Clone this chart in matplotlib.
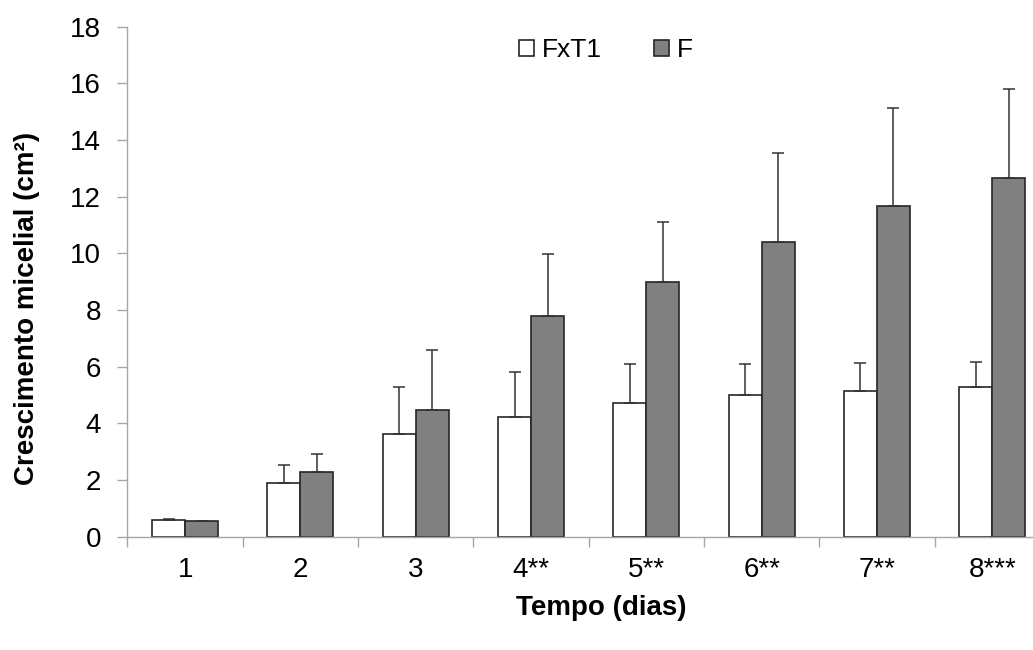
import numpy as np
import matplotlib
matplotlib.use("Agg")
import matplotlib.pyplot as plt
from matplotlib.patches import Patch

# ---------------------------------------------------------------------------
# Data
# ---------------------------------------------------------------------------
days = ["1", "2", "3", "4**", "5**", "6**", "7**", "8***"]

fxt1_mean = [0.57, 1.89, 3.63, 4.22, 4.72, 4.99, 5.12, 5.28]
fxt1_err = [0.04, 0.63, 1.64, 1.59, 1.36, 1.09, 1.00, 0.89]

f_mean = [0.53, 2.27, 4.45, 7.79, 8.98, 10.40, 11.67, 12.67]
f_err = [0.03, 0.63, 2.13, 2.19, 2.13, 3.13, 3.45, 3.13]

series_names = ["FxT1", "F"]

# ---------------------------------------------------------------------------
# Figure
# ---------------------------------------------------------------------------
plt.rcParams["font.family"] = ["Liberation Sans", "DejaVu Sans"]

fig = plt.figure(figsize=(10.33, 6.5), dpi=100)
# axes runs slightly past the right edge, as in the (cropped) original
ax = fig.add_axes([0.1234, 0.1746, 0.893, 0.7846])

x = np.arange(len(days))
w = 0.286
edge = "#262626"
axis_col = "#a6a6a6"
err_style = dict(ecolor="#333333", elinewidth=1.1, capthick=1.1)

ax.bar(x - w / 2, fxt1_mean, w, color="white", edgecolor=edge, linewidth=1.2,
       yerr=[np.zeros(len(days)), fxt1_err], capsize=4.6, error_kw=err_style)
ax.bar(x + w / 2, f_mean, w, color="#808080", edgecolor=edge, linewidth=1.2,
       yerr=[np.zeros(len(days)), f_err], capsize=4.6, error_kw=err_style)

ax.set_xlim(-0.5, len(days) - 0.5)
ax.set_ylim(0, 18)
ax.set_yticks(np.arange(0, 19, 2))

# labels at category centres, tick marks at category boundaries
ax.set_xticks(x)
ax.set_xticklabels(days)
ax.set_xticks(np.arange(-0.5, len(days), 1.0), minor=True)
ax.tick_params(axis="x", which="major", length=0, pad=15, labelsize=20)
ax.tick_params(axis="x", which="minor", length=7, width=1.0,
               color=axis_col, direction="out")
ax.tick_params(axis="y", length=7, width=1.0, color=axis_col,
               direction="out", pad=12, labelsize=20)

for side in ["top", "right"]:
    ax.spines[side].set_visible(False)
for side in ["left", "bottom"]:
    ax.spines[side].set_color(axis_col)
    ax.spines[side].set_linewidth(1.0)

fig.text(27 / 1033, 1 - 308 / 650, "Crescimento micelial (cm²)", rotation=90,
         ha="center", va="center", fontsize=20, fontweight="bold")
fig.text(601 / 1033, 1 - 608 / 650, "Tempo (dias)",
         ha="center", va="center", fontsize=20, fontweight="bold")

handles = [Patch(facecolor="white", edgecolor=edge, linewidth=1.2),
           Patch(facecolor="#808080", edgecolor=edge, linewidth=1.2)]
fig.legend(handles, series_names, loc="center", ncol=2,
           bbox_to_anchor=(606 / 1033, 1 - 50 / 650), frameon=False,
           fontsize=19, handlelength=0.55, handleheight=0.55,
           handletextpad=0.3, columnspacing=2.0)

fig.savefig("out.png", dpi=100)
